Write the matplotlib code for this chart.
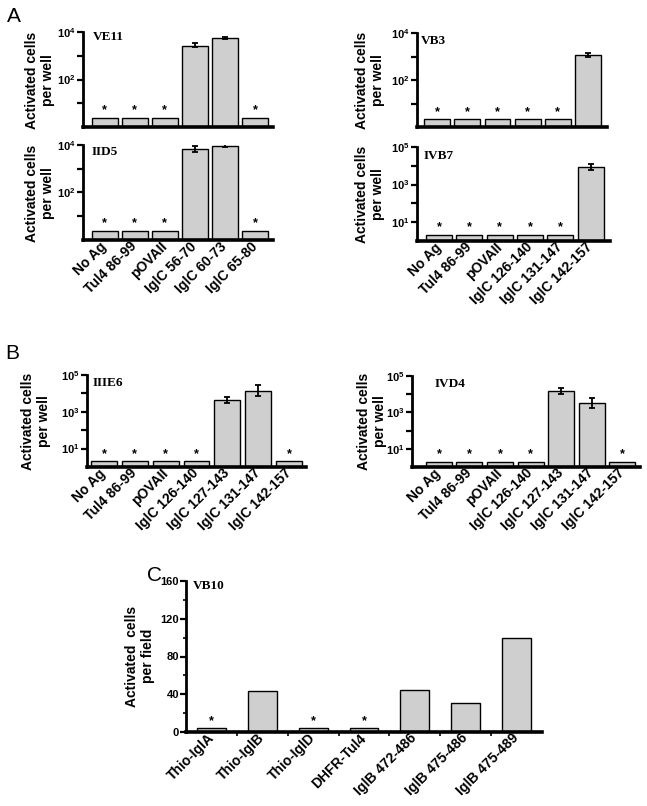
import numpy as np
import matplotlib
matplotlib.use("Agg")
import matplotlib.pyplot as plt
import matplotlib.transforms as mtransforms
from matplotlib.ticker import FixedLocator, NullLocator, FuncFormatter

plt.rcParams['font.family'] = ['Liberation Sans', 'DejaVu Sans']
plt.rcParams['mathtext.fontset'] = 'custom'
plt.rcParams['mathtext.rm'] = 'Liberation Sans:bold'
plt.rcParams['mathtext.bf'] = 'Liberation Sans:bold'
plt.rcParams['mathtext.it'] = 'Liberation Sans:bold'

# ---------------- data ----------------
labels_a_left = ['No Ag', 'Tul4 86-99', 'pOVAII', 'IglC 56-70', 'IglC 60-73', 'IglC 65-80']
ve11 = [2.5, 2.5, 2.5, 2600, 5400, 2.5]
ve11_lo = [None, None, None, 2300, 4900, None]
ve11_hi = [None, None, None, 3300, 6300, None]
ve11_star = [1, 1, 1, 0, 0, 1]

iid5 = [2.5, 2.5, 2.5, 6700, 9500, 2.5]
iid5_lo = [None, None, None, 5300, 8100, None]
iid5_hi = [None, None, None, 8700, 11200, None]
iid5_star = [1, 1, 1, 0, 0, 1]

labels_a_right = ['No Ag', 'Tul4 86-99', 'pOVAII', 'IglC 126-140', 'IglC 131-147', 'IglC 142-157']
vb3 = [2.1, 2.1, 2.1, 2.1, 2.1, 1130]
vb3_lo = [None, None, None, None, None, 930]
vb3_hi = [None, None, None, None, None, 1370]
vb3_star = [1, 1, 1, 1, 1, 0]

ivb7 = [2.2, 2.2, 2.2, 2.2, 2.2, 8400]
ivb7_lo = [None, None, None, None, None, 5800]
ivb7_hi = [None, None, None, None, None, 13200]
ivb7_star = [1, 1, 1, 1, 1, 0]

labels_b = ['No Ag', 'Tul4 86-99', 'pOVAII', 'IglC 126-140', 'IglC 127-143', 'IglC 131-147', 'IglC 142-157']
iiie6 = [2, 2, 2, 2, 4200, 13000, 2]
iiie6_lo = [None, None, None, None, 2900, 7200, None]
iiie6_hi = [None, None, None, None, 6100, 28000, None]
iiie6_star = [1, 1, 1, 1, 0, 0, 1]

ivd4 = [2, 2, 2, 2, 15000, 3400, 2]
ivd4_lo = [None, None, None, None, 10500, 1700, None]
ivd4_hi = [None, None, None, None, 21000, 6300, None]
ivd4_star = [1, 1, 1, 1, 0, 0, 1]

labels_c = ['Thio-IglA', 'Thio-IglB', 'Thio-IglD', 'DHFR-Tul4', 'IglB 472-486', 'IglB 475-486', 'IglB 475-489']
vb10 = [4, 43, 4, 4, 45, 31, 100]
vb10_star = [1, 0, 1, 1, 0, 0, 0]

# ---------------- style ----------------
W, H = 647, 806
fig = plt.figure(figsize=(W / 100, H / 100), dpi=100)
BAR = '#cfcfcf'
LABEL_SHIFT = mtransforms.ScaledTranslation(6 / 100, -3 / 100, fig.dpi_scale_trans)


def rect(x0, x1, y0, y1):
    return [x0 / W, 1 - y1 / H, (x1 - x0) / W, (y1 - y0) / H]


def logfmt(labelled):
    def f(v, pos):
        e = int(round(np.log10(v)))
        if e in labelled:
            return r'$\mathbf{10^{%d}}$' % e
        return ''
    return f


def style(ax):
    for s in ['top', 'right']:
        ax.spines[s].set_visible(False)
    ax.spines['left'].set_linewidth(2.0)
    ax.spines['bottom'].set_linewidth(2.6)
    ax.tick_params(axis='y', which='major', length=4, width=1.6, direction='out', labelsize=8, pad=1)
    ax.tick_params(axis='x', which='major', length=0, pad=3)


def set_xlabels(ax, labels):
    ax.set_xticklabels(labels, rotation=45, ha='right', va='center', rotation_mode='anchor',
                       fontsize=10, fontweight='bold')
    for t in ax.get_xticklabels():
        t.set_transform(t.get_transform() + LABEL_SHIFT)


def stars(ax, x, vals, star):
    for i in range(len(vals)):
        if star[i]:
            ax.annotate('*', (x[i], vals[i]), xytext=(0, 1.0), textcoords='offset points',
                        ha='center', va='bottom', fontsize=9, fontweight='bold')


def log_panel(rc, labels, vals, lo, hi, star, xlim, width, ymax_exp, lab_exps, title, tpos):
    ax = fig.add_axes(rc)
    x = np.arange(len(vals))
    ax.bar(x, vals, width=width, color=BAR, edgecolor='black', linewidth=1.0, zorder=2)
    ax.set_yscale('log')
    ax.set_ylim(1, 10 ** ymax_exp)
    ax.set_xlim(*xlim)
    ax.yaxis.set_major_locator(FixedLocator([10 ** e for e in range(1, ymax_exp + 1)]))
    ax.yaxis.set_minor_locator(NullLocator())
    ax.yaxis.set_major_formatter(FuncFormatter(logfmt(lab_exps)))
    ei = [i for i in range(len(vals)) if lo[i] is not None]
    if ei:
        yv = np.array([vals[i] for i in ei], float)
        yerr = [yv - np.array([lo[i] for i in ei]), np.array([hi[i] for i in ei]) - yv]
        ax.errorbar(ei, yv, yerr=yerr, fmt='none', ecolor='black', elinewidth=1.3, capsize=2.5,
                    capthick=1.3, zorder=3)
    stars(ax, x, vals, star)
    ax.set_xticks(x)
    set_xlabels(ax, labels)
    ax.text(tpos[0], tpos[1], title, transform=ax.transAxes, family='Liberation Serif',
            fontweight='bold', fontsize=9.5, ha='left', va='center')
    style(ax)
    return ax


def ylab(xc, yc, text):
    fig.text(xc / W, 1 - yc / H, text, rotation=90, ha='center', va='center',
             fontsize=10, fontweight='bold', linespacing=1.1)


# Panel A
axA1 = log_panel(rect(83, 273, 32, 127), labels_a_left, ve11, ve11_lo, ve11_hi, ve11_star,
                 (-0.72, 5.6), 0.86, 4, [2, 4], 'VE11', (0.05, 0.95))
axA1.set_xticklabels([])
axA2 = log_panel(rect(417, 607, 33, 127), labels_a_right, vb3, vb3_lo, vb3_hi, vb3_star,
                 (-0.67, 5.63), 0.86, 4, [2, 4], 'VB3', (0.02, 0.91))
axA2.set_xticklabels([])
log_panel(rect(83, 273, 145, 240), labels_a_left, iid5, iid5_lo, iid5_hi, iid5_star,
          (-0.72, 5.6), 0.86, 4, [2, 4], 'IID5', (0.045, 0.93))
log_panel(rect(417, 610, 147, 241), labels_a_right, ivb7, ivb7_lo, ivb7_hi, ivb7_star,
          (-0.73, 5.64), 0.86, 5, [1, 3, 5], 'IVB7', (0.035, 0.9))

ylab(40, 80, 'Activated cells\nper well')
ylab(370, 80, 'Activated cells\nper well')
ylab(40, 193, 'Activated cells\nper well')
ylab(370, 194, 'Activated cells\nper well')

# Panel B
log_panel(rect(87, 306, 375, 467), labels_b, iiie6, iiie6_lo, iiie6_hi, iiie6_star,
          (-0.55, 6.55), 0.84, 5, [1, 3, 5], 'IIIE6', (0.025, 0.91))
log_panel(rect(412, 640, 376, 467), labels_b, ivd4, ivd4_lo, ivd4_hi, ivd4_star,
          (-0.88, 6.58), 0.85, 5, [1, 3, 5], 'IVD4', (0.10, 0.91))
ylab(36, 421, 'Activated cells\nper well')
ylab(372, 421, 'Activated cells\nper well')

# Panel C
axC = fig.add_axes(rect(186, 542, 581, 732))
xc = np.arange(len(vb10))
axC.bar(xc, vb10, width=0.57, color=BAR, edgecolor='black', linewidth=1.0, zorder=2)
stars(axC, xc, vb10, vb10_star)
axC.set_xlim(-0.51, 6.51)
axC.set_ylim(0, 160)
axC.set_yticks([0, 40, 80, 120, 160])
axC.set_yticks([20, 60, 100, 140], minor=True)
axC.set_yticklabels(['0', '40', '80', '120', '160'], fontweight='bold')
axC.set_xticks(xc)
axC.set_xticks(xc[:-1] + 0.5, minor=True)
set_xlabels(axC, labels_c)
style(axC)
axC.tick_params(axis='y', which='minor', length=2.5, width=1.2, direction='out')
axC.tick_params(axis='x', which='minor', length=3, width=1.2, direction='out')
axC.text(0.02, 0.97, 'VB10', transform=axC.transAxes, family='Liberation Serif',
         fontweight='bold', fontsize=9.5, ha='left', va='center')
ylab(140, 656, 'Activated  cells\nper field')

# Panel letters
fig.text(7 / W, 1 - 7 / H, 'A', fontsize=15, ha='left', va='top')
fig.text(5 / W, 1 - 344 / H, 'B', fontsize=15, ha='left', va='top')
fig.text(147 / W, 1 - 566 / H, 'C', fontsize=15, ha='left', va='top')

fig.savefig('out.png', dpi=100)
